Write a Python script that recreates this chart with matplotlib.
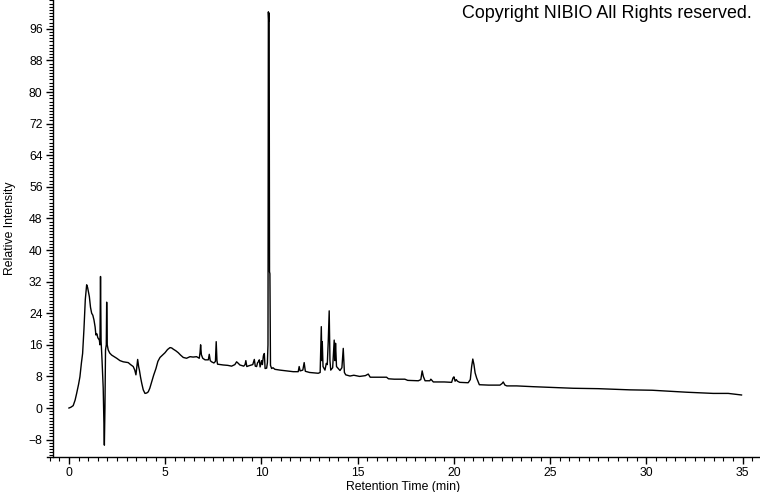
import numpy as np
import matplotlib.pyplot as plt
from matplotlib.ticker import MultipleLocator

# retention time (min) and relative intensity
time_min = [
    0.00, 0.10, 0.22, 0.32, 0.40, 0.50, 0.57, 0.65, 0.71, 0.78, 0.85, 0.92, 0.97,
    1.06, 1.12, 1.18, 1.24, 1.30, 1.36, 1.40, 1.45, 1.50, 1.58, 1.61, 1.64, 1.67,
    1.72, 1.78, 1.84, 1.87, 1.90, 1.94, 1.96, 1.99, 2.04, 2.12, 2.22, 2.35, 2.48,
    2.65, 2.82, 2.95, 3.08, 3.20, 3.34, 3.42, 3.48, 3.53, 3.57, 3.62, 3.66, 3.72,
    3.78, 3.86, 3.95, 4.04, 4.12, 4.20, 4.30, 4.40, 4.52, 4.62, 4.73, 4.86, 4.99,
    5.12, 5.25, 5.34, 5.42, 5.55, 5.68, 5.80, 5.94, 6.11, 6.29, 6.45, 6.63, 6.77,
    6.81, 6.84, 6.88, 6.95, 7.07, 7.24, 7.29, 7.34, 7.41, 7.53, 7.61, 7.65, 7.69,
    7.72, 8.01, 8.25, 8.45, 8.62, 8.71, 8.80, 8.88, 9.08, 9.15, 9.19, 9.24, 9.35,
    9.49, 9.55, 9.63, 9.68, 9.75, 9.80, 9.84, 9.89, 9.93, 10.01, 10.05, 10.10,
    10.15, 10.19, 10.27, 10.31, 10.34, 10.36, 10.38, 10.40, 10.42, 10.44, 10.47,
    10.53, 10.60, 10.70, 10.96, 11.30, 11.65, 11.91, 11.96, 12.01, 12.15, 12.22,
    12.28, 12.50, 12.95, 13.05, 13.11, 13.14, 13.16, 13.20, 13.30, 13.37, 13.42,
    13.47, 13.52, 13.56, 13.60, 13.70, 13.78, 13.82, 13.85, 13.90, 13.99, 14.08,
    14.18, 14.25, 14.31, 14.38, 14.60, 14.80, 15.10, 15.40, 15.55, 15.65, 16.00,
    16.50, 16.60, 16.90, 17.45, 17.60, 18.15, 18.28, 18.35, 18.41, 18.50, 18.75,
    18.80, 18.93, 19.50, 19.88, 19.95, 20.00, 20.06, 20.12, 20.18, 20.30, 20.74,
    20.85, 20.92, 20.98, 21.04, 21.10, 21.18, 21.32, 21.80, 22.39, 22.50, 22.56,
    22.65, 22.75, 23.26, 24.12, 25.16, 26.20, 27.50, 29.14, 30.30, 31.05, 32.09,
    33.47, 34.25, 34.60, 34.94,
]
intensity = [
    0.0, 0.2, 0.6, 2.0, 3.7, 6.0, 7.9, 11.5, 13.8, 20.0, 27.5, 31.2, 30.5,
    28.2, 25.5, 24.0, 23.5, 22.3, 20.5, 18.5, 18.8, 17.8, 17.2, 16.0, 33.3, 17.0,
    12.0, 5.0, -9.4, 0.0, 14.7, 16.0, 26.8, 16.0, 14.7, 13.9, 13.4, 13.0, 12.6,
    12.0, 11.7, 11.6, 11.5, 11.0, 10.5, 9.6, 8.4, 10.5, 12.3, 10.5, 9.6, 7.8,
    6.3, 4.6, 3.7, 3.8, 4.1, 5.0, 6.7, 8.3, 10.0, 11.8, 12.8, 13.4, 14.0,
    14.8, 15.3, 15.2, 14.9, 14.5, 14.0, 13.4, 12.8, 12.6, 13.0, 12.9, 13.0, 12.6,
    14.0, 16.0, 13.5, 12.6, 12.2, 12.2, 13.6, 12.0, 11.7, 11.4, 11.8, 16.8, 12.0,
    11.1, 10.9, 10.8, 10.6, 11.0, 11.7, 11.3, 10.9, 10.6, 11.0, 12.0, 10.5, 10.7,
    10.9, 11.0, 12.3, 10.6, 10.5, 11.5, 11.7, 12.2, 10.4, 12.0, 11.0, 13.2,
    13.8, 10.0, 10.1, 11.5, 16.0, 100.3, 98.0, 100.0, 34.5, 34.0, 10.8,
    10.0, 10.2, 9.8, 9.6, 9.4, 9.2, 9.2, 10.5, 9.4, 9.6, 11.5,
    9.3, 9.0, 8.8, 9.0, 20.6, 12.0, 16.8, 10.5, 9.6, 11.3, 11.0,
    16.8, 24.6, 12.0, 9.6, 10.2, 17.2, 12.0, 16.4, 10.5, 10.0, 9.5,
    10.2, 15.1, 9.0, 8.4, 8.1, 8.3, 8.0, 8.2, 8.6, 7.8, 7.8,
    7.8, 7.4, 7.3, 7.3, 7.0, 6.9, 7.2, 9.4, 8.0, 6.9, 6.9,
    7.3, 6.6, 6.6, 6.5, 7.6, 7.9, 6.8, 7.2, 6.8, 6.5, 6.4,
    7.2, 10.5, 12.4, 11.0, 8.9, 7.6, 5.9, 5.8, 5.8, 6.2, 6.6,
    5.8, 5.6, 5.6, 5.4, 5.2, 5.0, 4.9, 4.6, 4.5, 4.3, 4.0,
    3.7, 3.7, 3.5, 3.3,
]

plt.rcParams['font.family'] = ['Liberation Sans', 'DejaVu Sans']

fig = plt.figure(figsize=(7.6, 4.92), dpi=100)
ax = fig.add_axes([47 / 760, 35 / 492, 713 / 760, 457 / 492])

ax.plot(time_min, intensity, color='black', linewidth=1.0)

ax.set_xlim(-1.14, 35.9)
ax.set_ylim(-12.4, 103.3)

# axis lines: y axis sits a little right of where the x axis starts
ax.spines['top'].set_visible(False)
ax.spines['right'].set_visible(False)
ax.spines['left'].set_position(('data', -0.83))
ax.spines['left'].set_linewidth(1.0)
ax.spines['bottom'].set_linewidth(1.0)

ax.xaxis.set_major_locator(MultipleLocator(5))
ax.xaxis.set_minor_locator(MultipleLocator(0.5))
ax.yaxis.set_major_locator(MultipleLocator(8))
ax.yaxis.set_minor_locator(MultipleLocator(0.8))
ax.set_yticks(np.arange(-8, 97, 8))

ax.tick_params(axis='both', which='major', direction='out', length=5, width=1,
               labelsize=8.8, pad=2.5)
ax.tick_params(axis='both', which='minor', direction='out', length=3, width=0.8)

ax.set_xlabel('Retention Time (min)', fontsize=8.8, labelpad=1)
ax.set_ylabel('Relative Intensity', fontsize=8.8, labelpad=9)

fig.text(752 / 760, 1 - 14 / 492, 'Copyright NIBIO All Rights reserved.',
         ha='right', va='center', fontsize=12.9)

fig.savefig('out.png', dpi=100)
